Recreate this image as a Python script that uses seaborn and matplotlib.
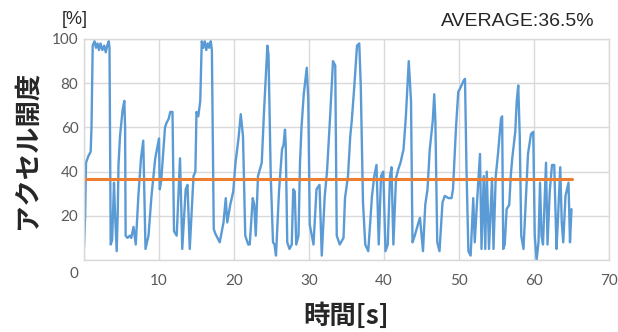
import matplotlib
matplotlib.use("Agg")
import matplotlib.pyplot as plt
import matplotlib.transforms as mtransforms
import seaborn as sns
import pandas as pd

# accelerator opening vs time
time_s = [
    0.0, 0.15, 0.27, 0.58, 0.89, 1.0, 1.16, 1.4, 1.6, 1.8, 2.0, 2.2, 2.45, 2.7, 2.9, 3.1, 3.3, 3.4,
    3.56, 3.75, 4.0, 4.15, 4.36, 4.5, 4.6, 4.8, 5.15, 5.38, 5.48, 5.55, 5.8, 6.1, 6.3, 6.6, 6.75,
    6.9, 7.25, 7.6, 7.9, 8.05, 8.2, 8.6, 9.0, 9.5, 10.0, 10.1, 10.3, 10.6, 10.8, 11.0, 11.3, 11.5,
    11.8, 12.0, 12.36, 12.6, 12.8, 13.0, 13.1, 13.56, 13.8, 14.1, 14.4, 14.6, 14.85, 15.0, 15.24,
    15.5, 15.7, 15.9, 16.1, 16.3, 16.5, 16.7, 16.9, 17.05, 17.3, 17.5, 17.8, 18.1, 18.6, 18.9,
    19.1, 19.5, 19.9, 20.2, 20.6, 20.9, 21.2, 21.5, 21.9, 22.1, 22.5, 22.7, 22.9, 23.2, 23.7, 24.0,
    24.3, 24.45, 24.6, 24.9, 25.2, 25.4, 25.6, 26.0, 26.4, 26.6, 26.8, 26.9, 27.1, 27.4, 27.7,
    27.9, 28.1, 28.3, 28.6, 28.8, 29.0, 29.3, 29.7, 29.9, 30.1, 30.6, 31.0, 31.4, 31.7, 32.1,
    32.4, 32.8, 33.2, 33.5, 33.7, 34.1, 34.6, 34.8, 35.2, 35.5, 35.7, 36.05, 36.4, 36.7, 36.9,
    37.2, 37.5, 37.9, 38.4, 38.7, 39.0, 39.3, 39.6, 39.9, 40.2, 40.5, 40.8, 41.0, 41.25, 41.6,
    41.9, 42.2, 42.6, 42.9, 43.2, 43.3, 43.6, 43.8, 44.1, 44.6, 44.8, 45.2, 45.5, 45.8, 46.1,
    46.5, 46.7, 46.85, 47.1, 47.4, 47.8, 48.1, 48.6, 49.0, 49.2, 49.6, 49.9, 50.2, 50.6, 50.8,
    51.0, 51.25, 51.55, 51.9, 52.1, 52.4, 52.8, 53.0, 53.3, 53.5, 53.7, 54.0, 54.4, 54.6, 54.9,
    55.2, 55.6, 55.75, 55.9, 56.1, 56.35, 56.7, 56.9, 57.1, 57.5, 57.7, 57.9, 58.1, 58.3, 58.6,
    58.9, 59.2, 59.6, 59.9, 60.1, 60.35, 60.6, 60.8, 61.0, 61.2, 61.6, 61.8, 62.1, 62.4, 62.7,
    63.0, 63.2, 63.5, 63.7, 63.9, 64.2, 64.6, 64.8, 65.0,
]
accel_pct = [
    6, 20, 44, 47, 49, 60, 97, 99, 96, 98, 95, 98, 95, 97, 94, 97, 99, 96,
    7, 9, 35, 20, 4, 22, 43, 56, 68, 72, 60, 11, 10, 11, 10, 15, 11,
    7, 29, 46, 54, 30, 5, 11, 29, 46, 55, 32, 36, 50, 60, 62, 64, 67,
    67, 13, 11, 30, 46, 20, 5, 32, 34, 5, 25, 38, 40, 67, 65,
    72, 99, 96, 99, 95, 98, 96, 99, 95, 14, 12, 10, 8, 17, 28,
    17, 25, 31, 44, 55, 66, 56, 11, 7, 7, 28, 25, 11, 38, 44, 67,
    87, 97, 93, 38, 8, 7, 2, 31, 50, 52, 59, 52, 8, 5, 7,
    32, 31, 7, 11, 44, 60, 75, 87, 73, 16, 7, 32, 34, 2, 29,
    40, 64, 90, 88, 11, 7, 10, 28, 38, 56, 63, 79, 97, 98, 79,
    26, 7, 4, 29, 38, 43, 7, 38, 40, 4, 7, 38, 42, 7, 37,
    41, 44, 50, 64, 84, 90, 72, 8, 11, 17, 19, 4, 25, 32, 50,
    63, 75, 63, 8, 4, 26, 29, 28, 28, 32, 60, 76, 78, 81, 82,
    41, 4, 2, 28, 8, 26, 48, 5, 38, 5, 40, 5, 37, 5, 38,
    48, 64, 65, 5, 7, 23, 25, 38, 46, 58, 72, 79, 56, 11, 5,
    26, 48, 57, 58, 11, 0, 8, 35, 11, 7, 44, 7, 31, 43, 43,
    5, 19, 42, 17, 8, 29, 35, 8, 23,
]
avg_time = [0.0, 65.0]
avg_pct = [36.5, 36.5]

x_ticks = [0, 10, 20, 30, 40, 50, 60, 70]
y_ticks = [0, 20, 40, 60, 80, 100]

sns.set_style("white")
plt.rcParams["font.family"] = ["Noto Sans CJK JP", "DejaVu Sans"]

df = pd.DataFrame({"time": time_s, "accel": accel_pct})
df_avg = pd.DataFrame({"time": avg_time, "accel": avg_pct})

fig = plt.figure(figsize=(6.18, 3.32), dpi=100)
ax = fig.add_axes([84 / 618, 1 - 260 / 332, 525 / 618, 221 / 332])

sns.lineplot(data=df, x="time", y="accel", ax=ax, color="#5B9BD5", lw=1.7)
sns.lineplot(data=df_avg, x="time", y="accel", ax=ax, color="#ED7D31", lw=2.2)

ax.set_xlim(0, 70)
ax.set_ylim(0, 100)
ax.set_xticks(x_ticks)
ax.set_yticks(y_ticks)
ax.set_xticklabels([""] + [str(v) for v in x_ticks[1:]], fontfamily="Lato", fontsize=11, color="#595959")
ax.set_yticklabels([str(v) for v in y_ticks], fontfamily="Lato", fontsize=11, color="#595959")
ax.tick_params(length=0)
ax.tick_params(axis="x", pad=10)
ax.tick_params(axis="y", pad=4)
# the "0" of the y axis sits a bit lower in the original
lbl0 = ax.get_yticklabels()[0]
lbl0.set_transform(lbl0.get_transform() + mtransforms.ScaledTranslation(0, -12 / 100, fig.dpi_scale_trans))

ax.grid(True, color="#D9D9D9", lw=1)
ax.set_axisbelow(True)
for s in ax.spines.values():
    s.set_color("#D9D9D9")
    s.set_linewidth(1)

ax.set_xlabel("時間[s]", fontsize=19, fontweight="bold", labelpad=11)
ax.set_ylabel("アクセル開度", fontsize=19, fontweight="bold", labelpad=8)

fig.text(62 / 618, 1 - 20 / 332, "[%]", fontfamily="Liberation Sans", fontsize=13,
         color="#262626", va="center")
fig.text(595 / 618, 1 - 22 / 332, "AVERAGE:36.5%", fontfamily="Liberation Sans", fontsize=14,
         color="#262626", va="center", ha="right")

fig.savefig("out.png", dpi=100)
